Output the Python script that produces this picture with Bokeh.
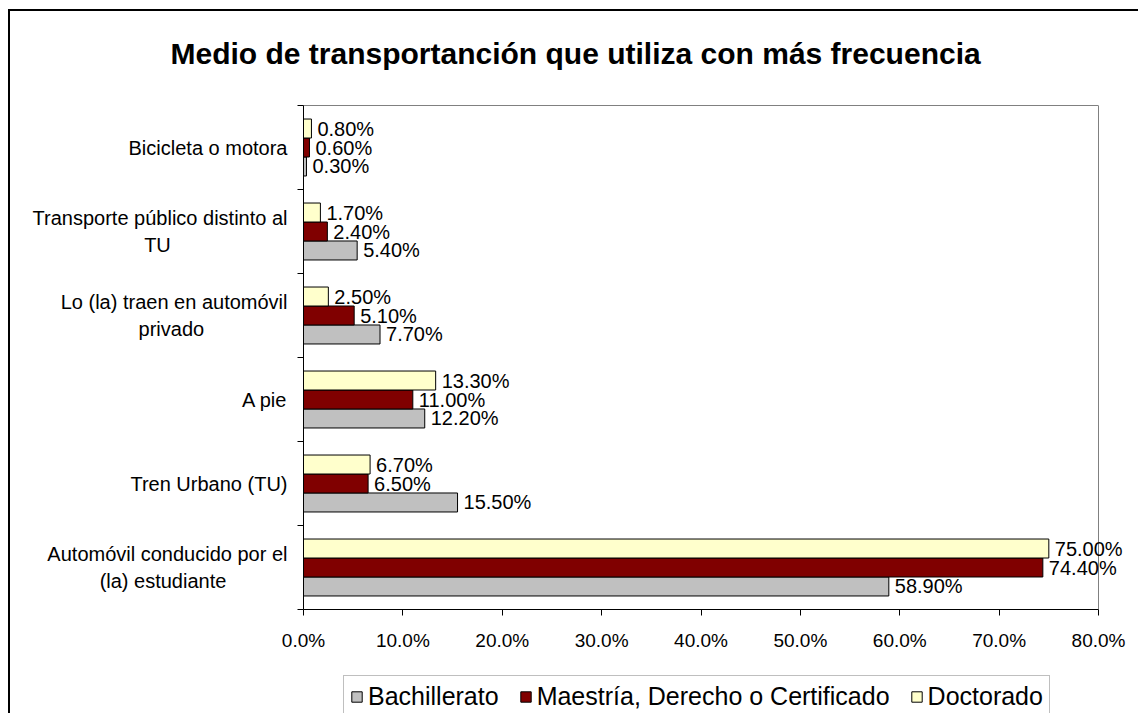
from bokeh.plotting import figure
from bokeh.layouts import column
from bokeh.models import Range1d, FixedTicker, ColumnDataSource, Legend, LegendItem, LabelSet, Title, LinearAxis
from bokeh.core.properties import value
from bokeh.transform import dodge
from bokeh.embed import file_html
from bokeh.resources import INLINE

# ---- data (bottom to top) ----
categories = [
    "Automóvil conducido por el\n(la) estudiante",
    "Tren Urbano (TU)",
    "A pie",
    "Lo (la) traen en automóvil\nprivado",
    "Transporte público distinto al\nTU",
    "Bicicleta o motora",
]
series_names = ["Bachillerato", "Maestría, Derecho o Certificado", "Doctorado"]
bachillerato = [58.9, 15.5, 12.2, 7.7, 5.4, 0.3]
maestria = [74.4, 6.5, 11.0, 5.1, 2.4, 0.6]
doctorado = [75.0, 6.7, 13.3, 2.5, 1.7, 0.8]
x_ticks = [0, 10, 20, 30, 40, 50, 60, 70, 80]
x_tick_labels = ["0.0%", "10.0%", "20.0%", "30.0%", "40.0%", "50.0%", "60.0%", "70.0%", "80.0%"]
colors = ["#C0C0C0", "#800000", "#FFFFCC"]
title_text = "Medio de transportanción que utiliza con más frecuencia"

# ---- layout / style ----
FONT = "Liberation Sans"
BAR_H = 0.226
W, H1, H2 = 1128, 652, 50
FL, FR_AXIS, FT, FB = 293, 1088, 94, 598   # frame left, x of 80%, frame top, frame bottom
TITLE_GAP = 36                              # space between title and plot area
label_pad = [11, 0, 0, 15, 21, 0]           # nbsp padding to centre 2nd lines

x_end = x_ticks[-1] * (W - FL) / (FR_AXIS - FL)

p = figure(width=W, height=H1, x_range=Range1d(0, x_end), y_range=Range1d(0, len(categories)),
           output_backend="svg", toolbar_location=None,
           min_border_left=FL, min_border_right=0, min_border_top=FT, min_border_bottom=H1 - FB)
p.background_fill_color = "white"
p.border_fill_color = "white"
p.outline_line_color = None
p.xgrid.visible = False
p.ygrid.visible = False

p.title = Title(text=title_text, text_font=FONT, text_font_size="30px", text_font_style="bold",
                text_color="#000000", align="left", offset=-133, standoff=0)

# x axis
xa = p.xaxis[0]
xa.ticker = FixedTicker(ticks=x_ticks)
xa.bounds = (x_ticks[0], x_ticks[-1])
xa.major_label_overrides = {t: l for t, l in zip(x_ticks, x_tick_labels)}
xa.axis_line_color = "#000000"
xa.major_tick_line_color = "#000000"
xa.major_tick_in = 0
xa.major_tick_out = 6
xa.minor_tick_line_color = None
xa.major_label_standoff = 14
xa.major_label_text_font = FONT
xa.major_label_text_font_size = "19px"
xa.major_label_text_color = "#000000"

# top border of plot area (an invisible tick reserves the gap below the title)
top = LinearAxis(ticker=FixedTicker(ticks=[x_ticks[0]]), bounds=(x_ticks[0], x_ticks[-1]),
                 axis_line_color="#808080", major_tick_line_color=None, minor_tick_line_color=None,
                 major_tick_out=TITLE_GAP, major_tick_in=0, major_label_standoff=0,
                 major_label_overrides={x_ticks[0]: ""}, major_label_text_font_size="1px")
p.add_layout(top, "above")

# y axis
centers = [i + 0.5 for i in range(len(categories))]
bounds = [i for i in range(len(categories) + 1)]
shown = []
for name, pad in zip(categories, label_pad):
    if "\n" in name:
        a, b = name.split("\n")
        name = a + "\n" + b + "\u00a0" * pad
    shown.append(name)
ya = p.yaxis[0]
ya.ticker = FixedTicker(ticks=centers, minor_ticks=bounds)
ya.major_label_overrides = {c: name for c, name in zip(centers, shown)}
ya.axis_line_color = "#000000"
ya.major_tick_line_color = None
ya.major_tick_in = 0
ya.major_tick_out = 0
ya.minor_tick_line_color = "#000000"
ya.minor_tick_in = 0
ya.minor_tick_out = 6
ya.major_label_standoff = 10
ya.major_label_text_font = FONT
ya.major_label_text_font_size = "20px"
ya.major_label_text_color = "#000000"

# right border of plot area
p.segment(x0=x_ticks[-1], x1=x_ticks[-1], y0=0, y1=len(categories), line_color="#808080", line_width=1)

# legend strip (its bars fall outside its own x range, only the legend shows)
p2 = figure(width=W, height=H2, x_range=Range1d(-2, -1), y_range=Range1d(0, 1),
            output_backend="svg", toolbar_location=None,
            x_axis_location=None, y_axis_location=None,
            min_border_left=0, min_border_right=0, min_border_top=0, min_border_bottom=0)
p2.outline_line_color = None
p2.xgrid.visible = False
p2.ygrid.visible = False
p2.background_fill_color = "white"
p2.border_fill_color = "white"

items = []
for k, (name, vals, col) in enumerate(zip(series_names, [bachillerato, maestria, doctorado], colors)):
    off = (k - 1) * BAR_H
    src = ColumnDataSource(dict(y=centers, x=vals, lbl=[f"{v:.2f}%" for v in vals]))
    p.hbar(y=dodge("y", off), left=0, right="x", height=BAR_H, source=src,
           fill_color=col, line_color="#000000", line_width=1)
    labels = LabelSet(x="x", y=dodge("y", off), text="lbl", x_offset=6, source=src,
                      text_baseline="middle", text_font=value(FONT), text_font_size=value("20px"),
                      text_color="#000000")
    p.add_layout(labels)
    r2 = p2.hbar(y="y", left=0, right="x", height=BAR_H, source=src,
                 fill_color=col, line_color="#000000", line_width=1)
    items.append(LegendItem(label=name, renderers=[r2]))

legend = Legend(items=items, orientation="horizontal", location=(40, -5),
                label_text_font=FONT, label_text_font_size="25px", label_text_color="#000000",
                glyph_width=13, glyph_height=13, label_standoff=5, spacing=20, padding=6,
                border_line_color="#808080", border_line_width=1, background_fill_alpha=1,
                margin=0)
p2.add_layout(legend)

layout = column(p, p2, spacing=0)
layout.styles = {"margin-left": "8px", "margin-top": "9px",
                 "border-left": "2px solid #000000", "border-top": "2px solid #000000"}

open("out.html", "w").write(file_html(layout, INLINE))
